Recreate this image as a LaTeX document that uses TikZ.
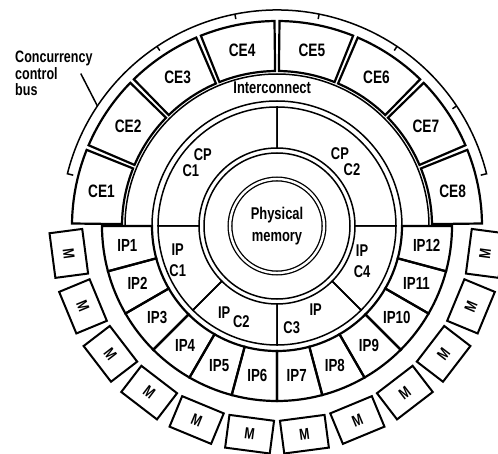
\documentclass[tikz,border=0pt]{standalone}
\usepackage{fontspec}
\newfontfamily\plotfont[FakeStretch=0.76]{Liberation Sans}
\usetikzlibrary{calc}
\tikzset{
  every node/.style = {inner sep = 0pt, align = center},
  ring/.style = {line width = 1.5pt},
  unit/.style = {line width = 2.2pt},
  memory/.style = {circle, draw, double, line width = 1.3pt, double distance = 2.4pt,
    minimum size = 94pt, font = \plotfont\bfseries\fontsize{17}{22}\selectfont},
  cetext/.style = {font = \plotfont\bfseries\fontsize{18}{20}\selectfont},
  iptext/.style = {font = \plotfont\bfseries\fontsize{17.5}{20}\selectfont},
  cptext/.style = {font = \plotfont\bfseries\fontsize{17}{21}\selectfont},
  bustext/.style = {align = left, font = \plotfont\bfseries\fontsize{16.5}{16.5}\selectfont},
  mbox/.style = {draw, line width = 2pt, minimum width = 45pt, minimum height = 33pt,
    font = \plotfont\bfseries\fontsize{16}{17}\selectfont}
}
\newcommand\sector[5][]{%
  \draw[#1] (#2:#4pt) arc[start angle = #2, end angle = #3, radius = #4pt]
    -- (#3:#5pt) arc[start angle = #3, end angle = #2, radius = #5pt] -- cycle;}

\begin{document}
\begin{tikzpicture}[x = 1pt, y = 1pt]
\useasboundingbox (0,0) rectangle (498,453);

\begin{scope}[shift = {(277,227)}]

\node [memory] (mem) at (0,0) {Physical\\memory};
\draw [ring] (0,0) circle [radius = 73pt];

% processor rings
\sector[ring]{90}{180}{78}{119}
\sector[ring]{0}{90}{78}{119}
\foreach \a in {180, 225, 270, 315}
  \sector[ring]{\a}{\a+45}{78}{119};
\node [cptext] (cpc1) at (141.8:102pt) {\hspace*{12pt}CP\\[-5pt]C1\hspace*{12pt}};
\node [cptext] (cpc2) at (42.8:94pt) {CP\hspace*{12pt}\\[-5pt]\hspace*{12pt}C2};
\node [cptext] (ipc1) at (199:105pt) {IP\\C1};
\node [cptext] (ipc2) at (244.7:101pt) {IP\,\raisebox{-9pt}{C2}};
\node [cptext] (ipc3) at (286:97pt) {\hspace*{24pt}IP\\[-3pt]C3\hspace*{24pt}};
\node [cptext] (ipc4) at (337.6:92pt) {IP\\C4};

\sector[ring]{0}{180}{125}{152}
\node [cptext] (icn) at (92:138pt) {Interconnect};

\foreach \i in {1,...,8} {
  \pgfmathsetmacro\as{180.7-22.5*\i}
  \pgfmathsetmacro\ae{202.5-22.5*\i-0.7}
  \pgfmathsetmacro\am{191.25-22.5*\i}
  \sector[unit]{\as}{\ae}{155}{205}
  \node [cetext] (ce\i) at (\am:179pt) {CE\i};
}

\foreach \i in {1,...,12} {
  \pgfmathsetmacro\as{165+15*\i}
  \pgfmathsetmacro\ae{180+15*\i}
  \pgfmathsetmacro\am{172.5+15*\i}
  \sector[unit]{\as}{\ae}{125}{175}
  \node [iptext] (ip\i) at (\am:151pt) {IP\i};
  \node [mbox, rotate = \am+90] (m\i) at (\am:210pt) {M};
}

% concurrency control bus
\draw [ring] (14:210pt) -- (14:216pt) arc [start angle = 14, end angle = 166, radius = 216pt]
  -- (166:210pt);
\foreach \t in {33.75, 56.25, 78.75, 101.25, 123.75}
  \draw [ring] (\t:216pt) -- (\t:211pt);
\coordinate (bustap) at (146.25:216pt);

\end{scope}

\node [bustext, anchor = north west] (ccb) at (15,402) {Concurrency\\control\\bus};
\draw [ring] ($(ccb.east)+(-12,0)$) -- (bustap);

\end{tikzpicture}
\end{document}
